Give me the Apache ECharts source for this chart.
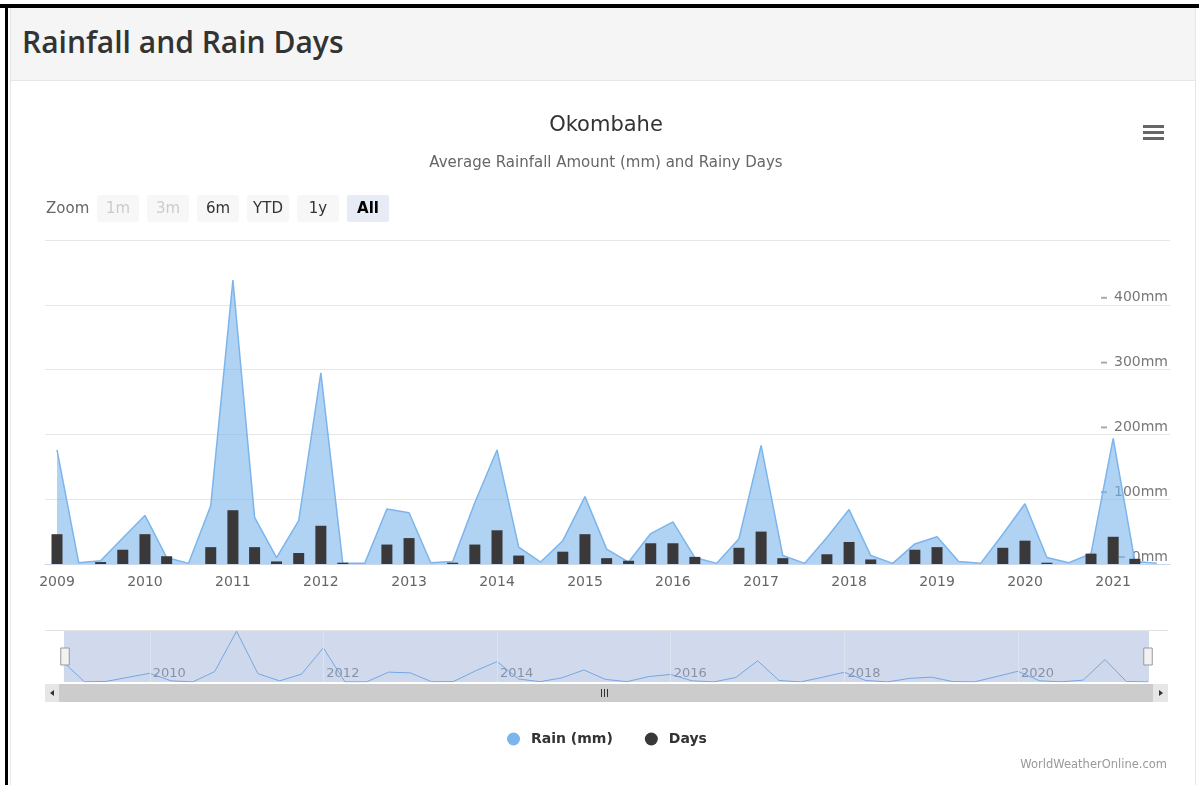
<!DOCTYPE html>
<html>
<head>
<meta charset="utf-8">
<title>Rainfall and Rain Days</title>
<script src="https://cdn.jsdelivr.net/npm/echarts@6/dist/echarts.min.js"></script>
<style>
  html, body { margin: 0; padding: 0; background: #fff; width: 1199px; height: 785px; overflow: hidden; }
  #frameTop { position: absolute; left: 0; top: 4px; width: 1199px; height: 4px; background: #000; }
  #frameLeft { position: absolute; left: 5px; top: 4px; width: 3px; height: 781px; background: #000; }
  #panel { position: absolute; left: 10px; top: 8px; width: 1184px; height: 777px;
           border-left: 1px solid #e6e6e6; border-right: 1px solid #e6e6e6; }
  #head { position: absolute; left: 0; top: 0; width: 1184px; height: 72px; background: #f5f5f5;
          border-bottom: 1px solid #e6e6e6; }
  #head h1 { margin: 0; position: absolute; left: 11px; top: 13px; line-height: 42px;
             font: 600 30px 'Open Sans', sans-serif; color: #333; }
  #chart { position: absolute; left: 0; top: 0; width: 1199px; height: 785px; }
</style>
</head>
<body>
<div id="panel"><div id="head"><h1>Rainfall and Rain Days</h1></div></div>
<div id="frameTop"></div>
<div id="frameLeft"></div>
<div id="chart"></div>
<script>
// Quarterly periods (start month of each quarter)
const quarters = [
  '2009-01','2009-04','2009-07','2009-10',
  '2010-01','2010-04','2010-07','2010-10',
  '2011-01','2011-04','2011-07','2011-10',
  '2012-01','2012-04','2012-07','2012-10',
  '2013-01','2013-04','2013-07','2013-10',
  '2014-01','2014-04','2014-07','2014-10',
  '2015-01','2015-04','2015-07','2015-10',
  '2016-01','2016-04','2016-07','2016-10',
  '2017-01','2017-04','2017-07','2017-10',
  '2018-01','2018-04','2018-07','2018-10',
  '2019-01','2019-04','2019-07','2019-10',
  '2020-01','2020-04','2020-07','2020-10',
  '2021-01','2021-04','2021-07'
];

// Average rainfall amount (mm)
const rainMm = [
  176, 2, 5, 40,
  75, 10, 1, 90,
  438, 72, 10, 67,
  295, 1, 1, 85,
  79, 2, 4, 95,
  176, 26, 3, 36,
  104, 23, 3, 47,
  65, 10, 1, 39,
  183, 13, 1, 41,
  84, 13, 1, 31,
  42, 4, 1, 46,
  93, 10, 2, 16,
  194, 4, 1
];

// Rainy days
const rainyDays = [
  4.6, 0, 0.3, 2.2,
  4.6, 1.2, 0, 2.6,
  8.3, 2.6, 0.4, 1.7,
  5.9, 0.2, 0, 3.0,
  4.0, 0, 0.2, 3.0,
  5.2, 1.3, 0, 1.9,
  4.6, 0.9, 0.5, 3.2,
  3.2, 1.1, 0, 2.5,
  5.0, 0.9, 0, 1.5,
  3.4, 0.7, 0, 2.2,
  2.6, 0, 0, 2.5,
  3.6, 0.2, 0, 1.6,
  4.2, 0.8, 0
];

const rainTicks = [0, 100, 200, 300, 400, 500];
const navigatorYears = ['2010', '2012', '2014', '2016', '2018', '2020'];
const zoomButtons = ['1m', '3m', '6m', 'YTD', '1y', 'All'];

const FONT = "'DejaVu Sans', Verdana, sans-serif";
const YEAR = 365 * 86400000;

function toTime(q) {
  const parts = q.split('-');
  return Date.UTC(+parts[0], +parts[1] - 1, 1);
}
const rainData = quarters.map((q, i) => [toTime(q), rainMm[i]]);
const daysData = quarters.map((q, i) => [toTime(q), rainyDays[i]]);

const firstTime = toTime(quarters[0]);
const lastTime = toTime(quarters[quarters.length - 1]);

function yearLabel(val) {
  const d = new Date(val);
  return (d.getUTCMonth() === 0 && d.getUTCDate() === 1) ? String(d.getUTCFullYear()) : '';
}

// Range selector (Zoom buttons)
const selectorGraphics = [{
  type: 'text', x: 46, y: 209,
  style: { text: 'Zoom', fill: '#666', font: '15px ' + FONT, verticalAlign: 'middle' }
}];
zoomButtons.forEach((label, i) => {
  const cx = 118 + i * 50;
  const selected = label === 'All';
  const disabled = label === '1m' || label === '3m';
  selectorGraphics.push({
    type: 'rect', shape: { x: cx - 21, y: 195, width: 42, height: 27, r: 2 },
    style: { fill: selected ? '#e6ebf5' : '#f7f7f7' }, silent: true
  });
  selectorGraphics.push({
    type: 'text', x: cx, y: 209,
    style: {
      text: label, align: 'center', verticalAlign: 'middle',
      fill: disabled ? '#cccccc' : (selected ? '#000' : '#333'),
      font: (selected ? 'bold ' : '') + '15px ' + FONT
    }, silent: true
  });
});

// Export menu icon
const menuGraphics = [0, 6, 12].map(dy => ({
  type: 'rect', shape: { x: 1143, y: 125 + dy, width: 21, height: 3 },
  style: { fill: '#666' }, silent: true
}));

// Scrollbar below the navigator
const scrollbarGraphics = [
  { type: 'rect', shape: { x: 45, y: 684, width: 1123, height: 18 }, style: { fill: '#f2f2f2' }, silent: true },
  { type: 'rect', shape: { x: 59, y: 684, width: 1094, height: 18 }, style: { fill: '#cccccc' }, silent: true },
  { type: 'rect', shape: { x: 45, y: 684, width: 14, height: 18 }, style: { fill: '#e6e6e6' }, silent: true },
  { type: 'rect', shape: { x: 1153, y: 684, width: 15, height: 18 }, style: { fill: '#e6e6e6' }, silent: true },
  { type: 'polygon', shape: { points: [[50, 693], [54, 690], [54, 696]] }, style: { fill: '#333' }, silent: true },
  { type: 'polygon', shape: { points: [[1163, 693], [1159, 690], [1159, 696]] }, style: { fill: '#333' }, silent: true },
  { type: 'line', shape: { x1: 601.5, y1: 689, x2: 601.5, y2: 697 }, style: { stroke: '#333', lineWidth: 1 }, silent: true },
  { type: 'line', shape: { x1: 604.5, y1: 689, x2: 604.5, y2: 697 }, style: { stroke: '#333', lineWidth: 1 }, silent: true },
  { type: 'line', shape: { x1: 607.5, y1: 689, x2: 607.5, y2: 697 }, style: { stroke: '#333', lineWidth: 1 }, silent: true },
  { type: 'line', shape: { x1: 45, y1: 630.5, x2: 1168, y2: 630.5 }, style: { stroke: '#e3e3e3', lineWidth: 1 }, silent: true }
];

const creditGraphic = {
  type: 'text', x: 1167, y: 765,
  style: { text: 'WorldWeatherOnline.com', align: 'right', verticalAlign: 'middle', fill: '#999', font: '11.5px ' + FONT },
  silent: true
};

const chart = echarts.init(document.getElementById('chart'), null, { renderer: 'canvas' });

// The time axis widens its range by half a bar width on each side to fit the
// columns, so the configured bounds sit that much inside the visible window.
const option = {
  useUTC: true,
  animation: false,
  backgroundColor: 'transparent',
  textStyle: { fontFamily: FONT },
  title: [
    { text: 'Okombahe', left: 601, top: 110, textAlign: 'center',
      textStyle: { fontSize: 21, fontWeight: 'normal', color: '#333', fontFamily: FONT } },
    { text: 'Average Rainfall Amount (mm) and Rainy Days', left: 601, top: 151, textAlign: 'center',
      textStyle: { fontSize: 15, fontWeight: 'normal', color: '#666', fontFamily: FONT } }
  ],
  legend: {
    data: ['Rain (mm)', 'Days'],
    left: 502, top: 727,
    icon: 'circle', itemWidth: 13, itemHeight: 13, itemGap: 32,
    textStyle: { fontSize: 14, fontWeight: 'bold', color: '#333', fontFamily: FONT, padding: [0, 0, 0, 6] }
  },
  grid: [
    { left: 45, right: 29, top: 240, height: 324 },
    { left: 63, right: 51, top: 631, height: 51 }
  ],
  xAxis: [
    {
      type: 'time', gridIndex: 0,
      min: Date.UTC(2008, 11, 5), max: Date.UTC(2021, 7, 2),
      minInterval: YEAR, maxInterval: YEAR,
      axisLine: { show: true, lineStyle: { color: '#ccd6eb' } },
      axisTick: { show: false },
      splitLine: { show: false },
      axisLabel: { formatter: yearLabel, color: '#666', fontSize: 14, margin: 11, fontFamily: FONT }
    },
    {
      type: 'time', gridIndex: 1,
      min: firstTime, max: lastTime,
      minInterval: YEAR, maxInterval: YEAR,
      axisLine: { show: false }, axisTick: { show: false }, splitLine: { show: false },
      axisLabel: {
        inside: true, margin: 2, align: 'left', padding: [0, 0, 0, 3],
        color: '#999', fontSize: 13, fontFamily: FONT,
        formatter: function (val) {
          const s = yearLabel(val);
          return navigatorYears.indexOf(s) >= 0 ? s : '';
        }
      }
    }
  ],
  yAxis: [
    {
      type: 'value', gridIndex: 0, position: 'right',
      min: rainTicks[0], max: rainTicks[rainTicks.length - 1], interval: 100,
      axisLine: { show: false }, axisTick: { show: false },
      splitLine: { show: true, lineStyle: { color: '#e6e6e6' } },
      axisLabel: {
        inside: true, margin: 2, verticalAlign: 'bottom',
        color: '#777', fontSize: 14, fontFamily: FONT,
        formatter: function (v) {
          return v === rainTicks[rainTicks.length - 1] ? '' : '{d| }{v|' + v + 'mm}';
        },
        rich: {
          d: { width: 6, height: 2, backgroundColor: '#aaa', fontSize: 1 },
          v: { color: '#777', fontSize: 14, fontFamily: FONT, padding: [0, 0, 0, 7] }
        }
      }
    },
    { type: 'value', gridIndex: 0, min: 0, max: 50, show: false, splitLine: { show: false } },
    { type: 'value', gridIndex: 1, min: 0, max: 440, show: false, splitLine: { show: false } }
  ],
  dataZoom: [{
    type: 'slider', xAxisIndex: 0, filterMode: 'none', start: 0, end: 100,
    left: 63, right: 51, top: 631, height: 51,
    backgroundColor: 'rgba(0,0,0,0)', borderColor: 'rgba(0,0,0,0)',
    fillerColor: 'rgba(102,133,194,0.3)',
    showDataShadow: false, showDetail: false, brushSelect: false,
    moveHandleSize: 0,
    handleIcon: 'path://M0,0H8V16H0Z',
    handleSize: 17,
    handleStyle: { color: '#f2f2f2', borderColor: '#999', borderWidth: 1 },
    emphasis: { handleStyle: { color: '#f2f2f2', borderColor: '#999' } }
  }],
  series: [
    {
      name: 'Rain (mm)', type: 'line', xAxisIndex: 0, yAxisIndex: 0, z: 2,
      data: rainData, showSymbol: false, smooth: false,
      color: '#7cb5ec',
      lineStyle: { color: '#7cb5ec', width: 1.5 },
      areaStyle: { color: 'rgba(124,181,236,0.86)' }
    },
    {
      name: 'Days', type: 'bar', xAxisIndex: 0, yAxisIndex: 1, z: 4,
      data: daysData, barWidth: 11,
      color: '#3a3838',
      itemStyle: { color: '#3a3838' }
    },
    {
      name: 'navigator', type: 'line', xAxisIndex: 1, yAxisIndex: 2,
      data: rainData, showSymbol: false, silent: true,
      lineStyle: { color: '#7cb5ec', width: 1 },
      areaStyle: { color: 'rgba(124,181,236,0.06)' },
      markLine: {
        silent: true, symbol: 'none', label: { show: false },
        lineStyle: { color: '#dde3ee', type: 'solid', width: 1 },
        data: navigatorYears.map(y => ({ xAxis: Date.UTC(+y, 0, 1) }))
      }
    }
  ],
  graphic: selectorGraphics.concat(menuGraphics, scrollbarGraphics, [creditGraphic])
};

chart.setOption(option);
</script>
</body>
</html>
